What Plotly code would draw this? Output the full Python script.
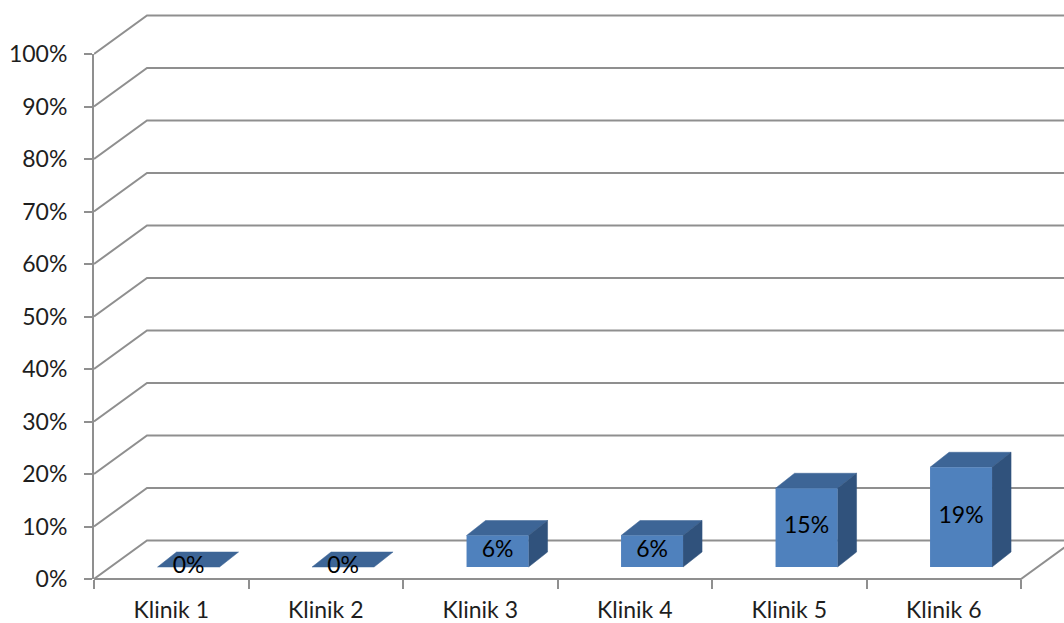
import numpy as np
import plotly.graph_objects as go

# ---- data ----
categories = ["Klinik 1", "Klinik 2", "Klinik 3", "Klinik 4", "Klinik 5", "Klinik 6"]
share_pct = [0, 0, 6, 6, 15, 19]
y_ticks = [0, 10, 20, 30, 40, 50, 60, 70, 80, 90, 100]
y_tick_labels = [f"{t}%" for t in y_ticks]

# ---- page / projection geometry (pixels) ----
W_PX, H_PX = 1064, 623
LEFT_PX = 94            # x of the front-left corner of the floor
CAT_PX = 154.5          # width of one category slot
Y0_PX, Y100_PX = 579, 54  # front-plane pixel rows for 0% and 100%
PX_PER_PCT = (Y0_PX - Y100_PX) / 100.0

# depth offsets expressed in axis units (category units / percent units)
WALL_DX, WALL_DY = 53 / CAT_PX, 38.5 / PX_PER_PCT      # floor depth (front -> back wall)
FRONT_DX, FRONT_DY = 17.3 / CAT_PX, 12 / PX_PER_PCT    # bar front plane inside the floor
TOP_DX, TOP_DY = 19 / CAT_PX, 15 / PX_PER_PCT          # bar depth
BAR_W = 62 / CAT_PX

FRONT_COL = "#4F81BD"
TOP_COL = "#3D6596"
SIDE_COL = "#30527C"
GRID_COL = "#8f8f8f"
TEXT_COL = "#1e1e1e"
FONT = "Lato"
FS = 23

n = len(categories)
pos = np.arange(1, n + 1, dtype=float)
vals = np.array(share_pct, dtype=float)

x_lo = 0.5
x_hi = x_lo + (W_PX - LEFT_PX) / CAT_PX
y_lo = -(H_PX - Y0_PX) / PX_PER_PCT
y_hi = 100 + Y100_PX / PX_PER_PCT

shapes = []

# grid lines: diagonal on the left wall, horizontal on the back wall
for t in y_ticks:
    shapes.append(dict(
        type="path", xref="x", yref="y", layer="below",
        path=f"M {x_lo},{t} L {x_lo + WALL_DX},{t + WALL_DY} L {x_hi + 1},{t + WALL_DY}",
        line=dict(color=GRID_COL, width=2),
    ))

# floor front edge and right edge
x_end = x_lo + n
shapes.append(dict(
    type="path", xref="x", yref="y", layer="below",
    path=f"M {x_lo},0 L {x_end},0 L {x_end + WALL_DX},{WALL_DY}",
    line=dict(color=GRID_COL, width=2),
))

# bar top and side faces
for p, v in zip(pos, vals):
    xl = p + FRONT_DX - BAR_W / 2
    xr = xl + BAR_W
    yb = FRONT_DY
    yt = FRONT_DY + v
    shapes.append(dict(
        type="path", xref="x", yref="y", layer="below",
        path=(f"M {xl},{yt} L {xl + TOP_DX},{yt + TOP_DY} "
              f"L {xr + TOP_DX},{yt + TOP_DY} L {xr},{yt} Z"),
        fillcolor=TOP_COL, line=dict(color=TOP_COL, width=0.5),
    ))
    if v > 0:
        shapes.append(dict(
            type="path", xref="x", yref="y", layer="below",
            path=(f"M {xr},{yb} L {xr},{yt} L {xr + TOP_DX},{yt + TOP_DY} "
                  f"L {xr + TOP_DX},{yb + TOP_DY} Z"),
            fillcolor=SIDE_COL, line=dict(color=SIDE_COL, width=0.5),
        ))

fig = go.Figure()

# bar front faces
fig.add_trace(go.Bar(
    x=pos + FRONT_DX, y=vals, base=FRONT_DY, width=BAR_W,
    marker=dict(color=FRONT_COL, line=dict(width=0)),
    hoverinfo="skip", showlegend=False,
))

# value labels centred on the front faces
fig.add_trace(go.Scatter(
    x=pos + FRONT_DX, y=FRONT_DY + vals / 2, mode="text",
    text=[f"{int(v)}%" for v in vals],
    textposition="middle center",
    textfont=dict(family=FONT, size=FS, color="#000000"),
    hoverinfo="skip", showlegend=False,
))

# empty trace that attaches the percent axis to the plot
fig.add_trace(go.Scatter(
    x=[], y=[], xaxis="x", yaxis="y2", mode="markers",
    hoverinfo="skip", showlegend=False,
))

fig.update_layout(
    width=W_PX, height=H_PX,
    margin=dict(l=LEFT_PX, r=0, t=0, b=0, autoexpand=False),
    paper_bgcolor="white", plot_bgcolor="rgba(0,0,0,0)",
    showlegend=False,
    shapes=shapes,
    xaxis=dict(
        range=[x_lo, x_hi], domain=[0, 1], automargin=False,
        anchor="free", position=(H_PX - Y0_PX) / H_PX,
        tickmode="array", tickvals=list(pos), ticktext=categories,
        ticks="", showline=False, showgrid=False, zeroline=False,
        tickfont=dict(family=FONT, size=FS, color=TEXT_COL),
        ticklabelstandoff=15,
        minor=dict(tickmode="array", tickvals=[x_lo + i for i in range(n + 1)],
                   ticks="outside", ticklen=9, tickwidth=2, tickcolor=GRID_COL,
                   showgrid=False),
    ),
    yaxis=dict(
        range=[y_lo, y_hi], domain=[0, 1], anchor="x", automargin=False,
        visible=False, showgrid=False, zeroline=False,
    ),
    yaxis2=dict(
        range=[0, 100], anchor="x", automargin=False,
        domain=[(H_PX - Y0_PX) / H_PX, (H_PX - Y100_PX) / H_PX],
        tickmode="array", tickvals=y_ticks, ticktext=y_tick_labels,
        ticks="outside", ticklen=8, tickwidth=2, tickcolor=GRID_COL,
        showline=True, linecolor=GRID_COL, linewidth=2,
        showgrid=False, zeroline=False,
        tickfont=dict(family=FONT, size=FS, color=TEXT_COL),
        ticklabelstandoff=12,
    ),
)

fig.write_html("out.html")
